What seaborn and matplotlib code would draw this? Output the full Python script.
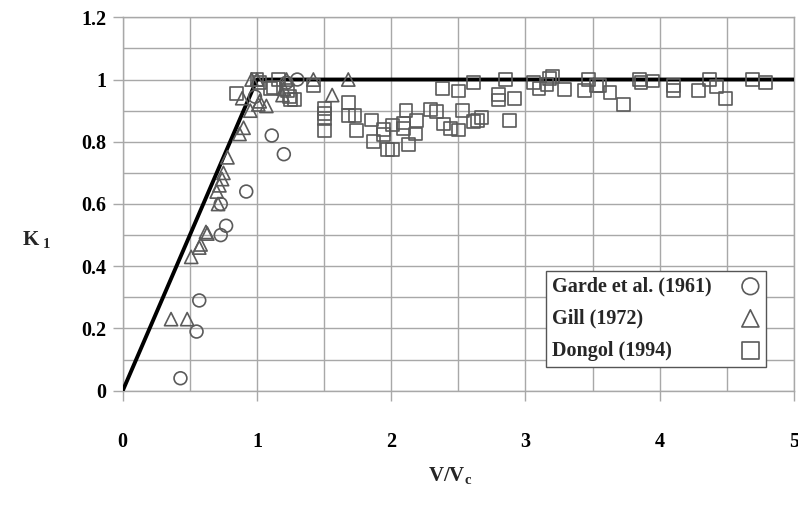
import matplotlib
matplotlib.use("Agg")
import matplotlib.pyplot as plt
import matplotlib.ticker as mticker
import seaborn as sns
import pandas as pd

# ---------------- data ----------------
garde_x = [0.43, 0.55, 0.57, 0.73, 0.77, 0.73, 0.92, 1.11, 1.20, 0.985, 1.22, 1.30]
garde_y = [0.04, 0.19, 0.29, 0.50, 0.53, 0.60, 0.64, 0.82, 0.76, 0.945, 0.99, 1.00]

gill_x = [0.36, 0.48, 0.51, 0.57, 0.58, 0.62, 0.63, 0.70, 0.71, 0.72, 0.74, 0.75,
          0.78, 0.87, 0.90, 0.95, 0.89, 0.96, 1.00, 1.01, 1.02, 1.07, 1.19, 1.22,
          1.42, 1.56, 1.68, 1.20]
gill_y = [0.23, 0.23, 0.43, 0.46, 0.47, 0.51, 0.505, 0.64, 0.60, 0.66, 0.68, 0.70,
          0.75, 0.825, 0.845, 0.90, 0.94, 1.00, 1.00, 0.92, 0.93, 0.915, 0.95, 1.00,
          1.00, 0.95, 1.00, 0.97]

dongol_x = [0.85, 1.00, 1.02, 1.10, 1.12, 1.16, 1.23, 1.24, 1.25, 1.28, 1.42,
            1.50, 1.50, 1.50, 1.50, 1.68, 1.68, 1.73, 1.74, 1.85, 1.87, 1.94, 1.94,
            1.97, 2.01, 2.01, 2.09, 2.09, 2.11, 2.13, 2.18, 2.19, 2.29, 2.34, 2.38,
            2.39, 2.44, 2.50, 2.50, 2.53, 2.61, 2.61, 2.64, 2.67, 2.80, 2.80, 2.85,
            2.88, 2.92, 3.06, 3.10, 3.16, 3.18, 3.20, 3.29, 3.44, 3.47, 3.53, 3.55,
            3.63, 3.73, 3.85, 3.86, 3.95, 4.10, 4.10, 4.29, 4.37, 4.42, 4.49, 4.69,
            4.79]
dongol_y = [0.955, 1.00, 0.99, 0.97, 0.975, 1.00, 0.966, 0.945, 0.935, 0.935, 0.98,
            0.907, 0.89, 0.875, 0.835, 0.925, 0.885, 0.885, 0.835, 0.87, 0.80, 0.840, 0.824,
            0.776, 0.854, 0.776, 0.86, 0.843, 0.90, 0.79, 0.825, 0.868, 0.904, 0.897, 0.97,
            0.857, 0.843, 0.838, 0.963, 0.90, 0.99, 0.864, 0.868, 0.879, 0.952, 0.934, 1.00,
            0.868, 0.94, 0.99, 0.97, 0.985, 1.004, 1.01, 0.968, 0.964, 1.00, 0.98, 0.98,
            0.958, 0.92, 1.00, 0.99, 0.995, 0.98, 0.966, 0.966, 1.00, 0.977, 0.94, 1.00,
            0.99]

line_x = [0.0, 1.0, 5.0]
line_y = [0.0, 1.0, 1.0]

series_labels = ["Garde et al. (1961)", "Gill (1972)", "Dongol (1994)"]
x_ticks = [0, 1, 2, 3, 4, 5]
y_ticks = [0, 0.2, 0.4, 0.6, 0.8, 1.0, 1.2]
y_tick_labels = ["0", "0.2", "0.4", "0.6", "0.8", "1", "1.2"]

# ---------------- style ----------------
sns.set_theme(style="white")
plt.rcParams["font.family"] = ["Liberation Serif", "DejaVu Serif"]
plt.rcParams["font.weight"] = "bold"
plt.rcParams["mathtext.fontset"] = "custom"
plt.rcParams["mathtext.rm"] = "Liberation Serif:bold"
plt.rcParams["mathtext.bf"] = "Liberation Serif:bold"
plt.rcParams["mathtext.it"] = "Liberation Serif:bold"

grid_c = "#a8a8a8"
edge_c = "#5a5a5a"

fig = plt.figure(figsize=(7.98, 5.07), dpi=100)
ax = fig.add_axes([0.1538, 0.2294, 0.8412, 0.7365])

sns.lineplot(x=line_x, y=line_y, ax=ax, color="black", linewidth=2.8,
             sort=False, estimator=None, zorder=3)

df_g = pd.DataFrame({"x": garde_x, "y": garde_y})
df_gi = pd.DataFrame({"x": gill_x, "y": gill_y})
df_d = pd.DataFrame({"x": dongol_x, "y": dongol_y})

common = dict(facecolor="none", edgecolor=edge_c, linewidth=1.2, zorder=4)
sns.scatterplot(data=df_g, x="x", y="y", marker="o", s=85, ax=ax,
                label=series_labels[0], **common)
sns.scatterplot(data=df_gi, x="x", y="y", marker="^", s=90, ax=ax,
                label=series_labels[1], **common)
sns.scatterplot(data=df_d, x="x", y="y", marker="s", s=85, ax=ax,
                label=series_labels[2], **common)

ax.set_xlim(0, 5)
ax.set_ylim(0, 1.2)

ax.set_xticks(x_ticks)
ax.set_xticklabels([str(t) for t in x_ticks])
ax.set_yticks(y_ticks)
ax.set_yticklabels(y_tick_labels)
ax.xaxis.set_minor_locator(mticker.MultipleLocator(0.5))
ax.yaxis.set_minor_locator(mticker.MultipleLocator(0.1))

ax.grid(True, which="both", color=grid_c, linewidth=1.0)
ax.set_axisbelow(True)
ax.tick_params(axis="both", which="major", length=7, width=1.0, color=grid_c,
               labelsize=14.5, labelcolor="black")
ax.tick_params(axis="both", which="minor", length=0)
ax.tick_params(axis="x", which="major", pad=23, direction="out", bottom=True)
ax.tick_params(axis="y", which="major", pad=5, direction="out", left=True)
for lab in ax.get_xticklabels() + ax.get_yticklabels():
    lab.set_fontweight("bold")

for sp in ax.spines.values():
    sp.set_color(grid_c)
    sp.set_linewidth(1.0)

ax.set_xlabel(r"$\mathbf{V/V}_{\mathbf{c}}$", fontsize=15)
ax.xaxis.set_label_coords(0.4876, -0.199)
ax.set_ylabel(r"$\mathbf{K}_{\ \mathbf{1}}$", fontsize=15, rotation=0,
              ha="center", va="center")
ax.yaxis.set_label_coords(-0.128, 0.404)

leg_fs = 14.5
leg = ax.legend(loc="lower right", bbox_to_anchor=(0.959, 0.064),
                markerfirst=False, frameon=True, fancybox=False,
                prop={"family": "Liberation Serif", "weight": "bold", "size": leg_fs},
                handletextpad=1.5, borderpad=0.3, labelspacing=0.6,
                handlelength=1.0, borderaxespad=0, markerscale=1.3)
leg.get_frame().set_edgecolor("#555555")
leg.get_frame().set_linewidth(1.0)
leg.get_frame().set_facecolor("white")
leg.get_frame().set_alpha(1.0)
leg.set_zorder(5)

# left-align the legend texts while keeping markers in a right-hand column
fig.canvas.draw()
renderer = fig.canvas.get_renderer()
texts = leg.get_texts()
widths = [t.get_window_extent(renderer).width for t in texts]
maxw = max(widths)
column = leg._legend_handle_box.get_children()[0]
base_sep = 1.4 * leg_fs
for item, w in zip(column.get_children(), widths):
    item.sep = base_sep + (maxw - w) * 72.0 / fig.dpi

fig.savefig("out.png", dpi=100)
